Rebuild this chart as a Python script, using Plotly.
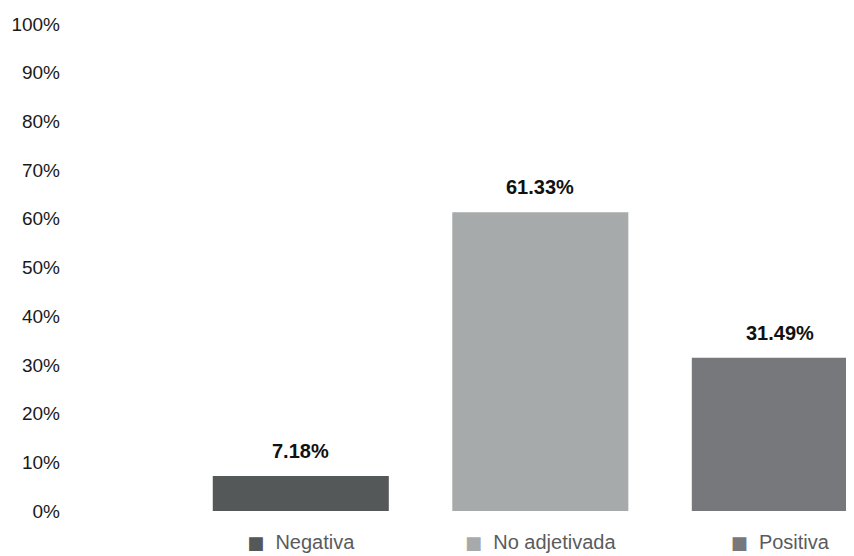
import plotly.graph_objects as go

categories = ["Negativa", "No adjetivada", "Positiva"]
values = [7.18, 61.33, 31.49]
colors = ["#555859", "#a7aaab", "#76787b"]
y_ticks = [0, 10, 20, 30, 40, 50, 60, 70, 80, 90, 100]

FONT = "Liberation Sans, Arial, sans-serif"

# category labels with a coloured square in front, like a legend key
tick_text = [
    f'<span style="color:{c};font-family:DejaVu Sans;font-size:18px">■</span>\u00a0\u00a0{name}'
    for name, c in zip(categories, colors)
]

fig = go.Figure(
    go.Bar(
        x=categories,
        y=values,
        marker=dict(color=colors, line=dict(width=0)),
        width=0.735,
        hoverinfo="skip",
    )
)

for name, v in zip(categories, values):
    fig.add_annotation(
        x=name, y=v, text=f"<b>{v:.2f}%</b>",
        showarrow=False, yanchor="bottom", yshift=12,
        font=dict(family=FONT, size=20, color="#111111"),
    )

# the page body adds 8px on the left and top; the last bar runs off the right edge
fig.update_layout(
    width=854, height=548,
    margin=dict(l=52, r=0, t=15.5, b=45),
    paper_bgcolor="white", plot_bgcolor="white",
    showlegend=False,
    font=dict(family=FONT),
    xaxis=dict(
        domain=[0.1509, 1],
        range=[-0.5, 2.343],
        tickmode="array",
        tickvals=categories,
        ticktext=tick_text,
        tickfont=dict(family=FONT, size=20, color="#5a5b5d"),
        showgrid=False, zeroline=False, showline=False, ticks="",
        ticklabelstandoff=17,
        automargin=False,
    ),
    yaxis=dict(
        anchor="free", position=0,
        range=[0, 100],
        tickvals=y_ticks,
        ticktext=[f"{t}%" for t in y_ticks],
        tickfont=dict(family=FONT, size=19, color="#1a1a1a"),
        showgrid=False, zeroline=False, showline=False, ticks="",
        ticklabelstandoff=0,
        automargin=False,
    ),
)

fig.write_html("out.html")
